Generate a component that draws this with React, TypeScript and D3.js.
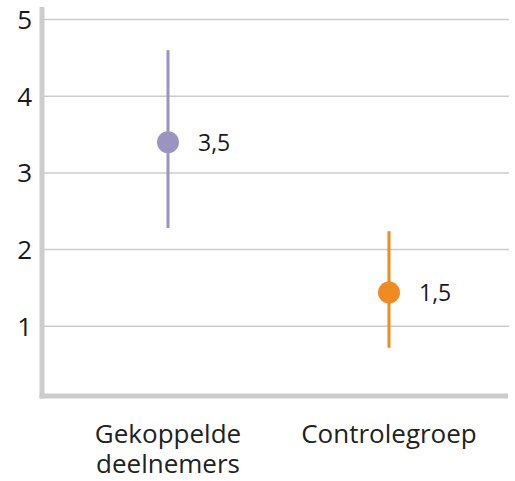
import React from "react";
import * as d3 from "d3";

const groups = ["Gekoppelde\ndeelnemers", "Controlegroep"];
const means = [3.4, 1.44];
const lows = [2.28, 0.72];
const highs = [4.6, 2.24];
const valueLabels = ["3,5", "1,5"];
const colors = ["#9b94c0", "#f08a22"];
const yTicks = [1, 2, 3, 4, 5];

const W = 515;
const H = 481;
const FONT = "'Open Sans', 'Noto Sans', sans-serif";

const App: React.FC = () => {
	const y = d3.scaleLinear().domain([0, 5]).range([403, 19.5]);
	const x = d3.scalePoint<string>().domain(groups).range([168, 389]);
	const left = 42;
	const right = 509;
	const base = y(0.09);

	return (
		<svg
			width={W}
			height={H}
			style={{ position: "absolute", left: 0, top: 0, background: "#fff" }}
			fontFamily={FONT}
		>
			{/* gridlines */}
			{yTicks.map((t) => (
				<line
					key={t}
					x1={left}
					x2={right}
					y1={y(t)}
					y2={y(t)}
					stroke="#cccccc"
					strokeWidth={1.5}
				/>
			))}
			{/* axes */}
			<line x1={left} x2={left} y1={7} y2={base + 2.5} stroke="#cccccc" strokeWidth={5} />
			<line x1={left - 2.5} x2={right - 1} y1={base} y2={base} stroke="#cccccc" strokeWidth={5} />
			{yTicks.map((t) => (
				<text
					key={t}
					x={32}
					y={y(t)}
					dy="0.36em"
					textAnchor="end"
					fontSize={26}
					fill="#1a1a1a"
				>
					{t}
				</text>
			))}
			{/* error bars and points */}
			{groups.map((g, i) => (
				<g key={g}>
					<line
						x1={x(g)}
						x2={x(g)}
						y1={y(highs[i])}
						y2={y(lows[i])}
						stroke={colors[i]}
						strokeWidth={3}
					/>
					<circle cx={x(g)} cy={y(means[i])} r={11} fill={colors[i]} />
					<text
						x={(x(g) as number) + 30}
						y={y(means[i])}
						dy="0.36em"
						fontSize={23}
						fill="#1a1a1a"
					>
						{valueLabels[i]}
					</text>
				</g>
			))}
			{/* category labels */}
			{groups.map((g) =>
				g.split("\n").map((line, j) => (
					<text
						key={g + j}
						x={x(g)}
						y={443 + j * 30}
						textAnchor="middle"
						fontSize={26}
						fill="#222"
					>
						{line}
					</text>
				))
			)}
		</svg>
	);
};

export default App;
